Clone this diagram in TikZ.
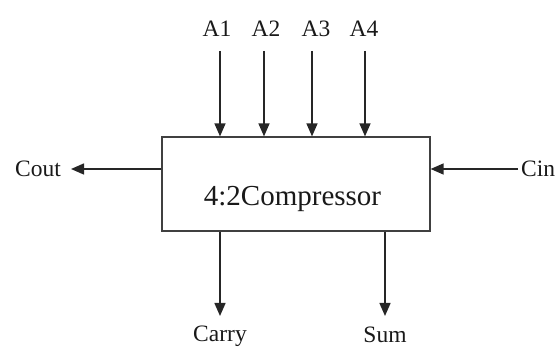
\documentclass[tikz,border=0pt]{standalone}
\usepackage{fontspec}
\setmainfont{Liberation Serif}
\usetikzlibrary{arrows.meta}
\begin{document}
\begin{tikzpicture}[x=1pt,y=-1pt,
  lbl/.style={inner sep=0pt, font=\fontsize{23.5}{25}\selectfont, text=black!90},
  wire/.style={draw=black!85, line width=1.4pt, -{Triangle[width=11pt,length=13pt]}},
  blk/.style={draw=black!75, line width=1.2pt, minimum width=268pt, minimum height=94pt, inner sep=0pt}]
\useasboundingbox (0,0) rectangle (555,347);
\node[blk] (comp) at (296,184) {};
\node[inner sep=0pt, font=\fontsize{29}{31}\selectfont, text=black!90] (txt) at (292.5,199) {4:2Compressor};
% top inputs
\node[lbl] (a1) at (217,29) {A1};
\node[lbl] (a2) at (266,29) {A2};
\node[lbl] (a3) at (316,29) {A3};
\node[lbl] (a4) at (364,29) {A4};
\coordinate (t1) at (220,51);
\coordinate (t2) at (264,51);
\coordinate (t3) at (312,51);
\coordinate (t4) at (365,51);
\draw[wire] (t1) -- (t1 |- comp.north);
\draw[wire] (t2) -- (t2 |- comp.north);
\draw[wire] (t3) -- (t3 |- comp.north);
\draw[wire] (t4) -- (t4 |- comp.north);
% side
\node[lbl, anchor=east] (cout) at (61,169) {Cout};
\coordinate (coutend) at (71,169);
\draw[wire] (comp.west |- coutend) -- (coutend);
\node[lbl, anchor=west] (cin) at (521,169) {Cin};
\coordinate (cinstart) at (518,169);
\draw[wire] (cinstart) -- (comp.east |- cinstart);
% bottom outputs
\coordinate (b1) at (220,316);
\coordinate (b2) at (385,316);
\draw[wire] (comp.south -| b1) -- (b1);
\draw[wire] (comp.south -| b2) -- (b2);
\node[lbl] (carry) at (220,336) {Carry};
\node[lbl] (sum) at (385,335) {Sum};
\end{tikzpicture}
\end{document}
